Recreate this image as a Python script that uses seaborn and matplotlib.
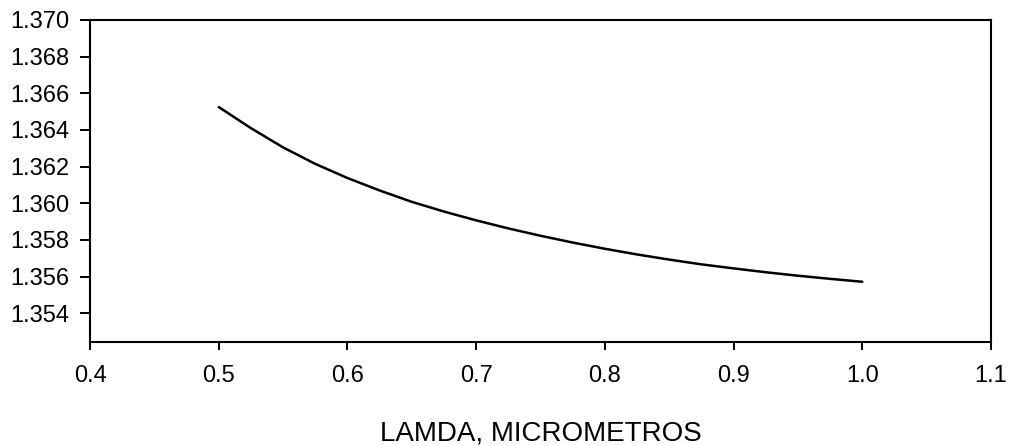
import matplotlib
matplotlib.use("Agg")
import matplotlib.pyplot as plt
import seaborn as sns
import pandas as pd

# Refractive index versus wavelength (micrometres)
lamda = [0.500, 0.525, 0.550, 0.575, 0.600, 0.625, 0.650, 0.675, 0.700, 0.725, 0.750,
         0.775, 0.800, 0.825, 0.850, 0.875, 0.900, 0.925, 0.950, 0.975, 1.000]
indice = [1.36525, 1.36410, 1.36305, 1.36215, 1.36138, 1.36070, 1.36008, 1.35955, 1.35907,
          1.35863, 1.35823, 1.35786, 1.35752, 1.35721, 1.35693, 1.35667, 1.35645, 1.35624,
          1.35605, 1.35588, 1.35572]

x_ticks = [0.4, 0.5, 0.6, 0.7, 0.8, 0.9, 1.0, 1.1]
y_ticks = [1.354, 1.356, 1.358, 1.360, 1.362, 1.364, 1.366, 1.368, 1.370]

df = pd.DataFrame({"lamda": lamda, "indice": indice})

sns.set_style("ticks")
plt.rcParams["font.family"] = ["Liberation Sans", "DejaVu Sans"]

fig = plt.figure(figsize=(10.14, 4.45), dpi=100)
ax = fig.add_axes([0.0888, 0.2321, 0.8885, 0.7230])

sns.lineplot(data=df, x="lamda", y="indice", ax=ax, color="black", linewidth=1.8)

ax.set_xlim(0.4, 1.1)
ax.set_ylim(1.35245, 1.370)
ax.set_xticks(x_ticks)
ax.set_xticklabels([f"{v:.1f}" for v in x_ticks])
ax.set_yticks(y_ticks)
ax.set_yticklabels([f"{v:.3f}" for v in y_ticks])

for side in ["left", "right", "top", "bottom"]:
    ax.spines[side].set_visible(True)
    ax.spines[side].set_linewidth(1.5)
    ax.spines[side].set_color("black")

ax.tick_params(axis="x", direction="out", length=6, width=1.4, pad=11, labelsize=17, colors="black")
ax.tick_params(axis="y", direction="out", length=7, width=1.4, pad=8, labelsize=17, colors="black")

ax.set_xlabel("LAMDA, MICROMETROS", fontsize=20, labelpad=24, color="black")
ax.set_ylabel("")

fig.savefig("out.png", dpi=100, facecolor="white")
